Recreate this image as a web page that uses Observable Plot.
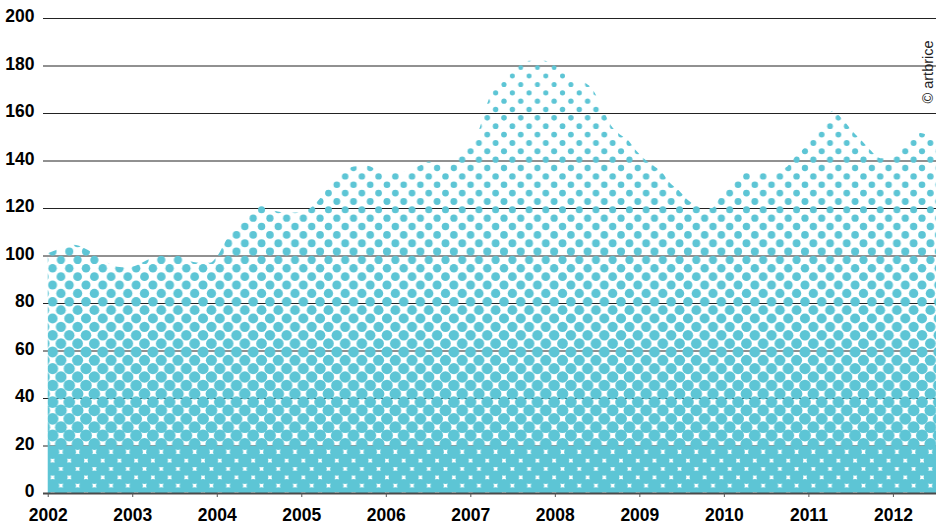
<!DOCTYPE html>
<html>
<head>
<meta charset="utf-8">
<script src="https://cdn.jsdelivr.net/npm/d3@7"></script>
<script src="https://cdn.jsdelivr.net/npm/@observablehq/plot@0.6"></script>
<style>
  html, body { margin: 0; padding: 0; background: #fff; }
  #chart { width: 936px; height: 527px; overflow: hidden; }
</style>
</head>
<body>
<div id="chart"></div>
<script>
// ---- data ----
const years = [2002.0, 2002.15, 2002.3, 2002.44, 2002.56, 2002.68, 2002.82, 2002.94, 2003.06, 2003.17,
  2003.33, 2003.53, 2003.65, 2003.8, 2003.92, 2004.0, 2004.12, 2004.28, 2004.43, 2004.54,
  2004.67, 2004.87, 2005.02, 2005.13, 2005.22, 2005.31, 2005.5, 2005.62, 2005.78, 2005.93,
  2006.1, 2006.29, 2006.41, 2006.5, 2006.64, 2006.76, 2006.88, 2007.0, 2007.09, 2007.2,
  2007.28, 2007.39, 2007.5, 2007.59, 2007.7, 2007.88, 2007.98, 2008.09, 2008.18, 2008.36,
  2008.45, 2008.55, 2008.68, 2008.77, 2008.86, 2008.95, 2009.05, 2009.16, 2009.27, 2009.36,
  2009.46, 2009.57, 2009.66, 2009.76, 2009.86, 2009.96, 2010.05, 2010.16, 2010.25, 2010.43,
  2010.55, 2010.64, 2010.75, 2010.84, 2010.94, 2011.05, 2011.14, 2011.23, 2011.29, 2011.34,
  2011.44, 2011.53, 2011.64, 2011.73, 2011.85, 2011.97, 2012.06, 2012.18, 2012.33, 2012.44, 2012.51];
const values = [101, 103, 104.5, 103, 100.5, 97.5, 95.3, 95, 96, 98,
  100, 100, 98, 97, 97, 99.5, 107, 114, 119, 121.4,
  119, 118, 118.5, 120.6, 124, 128.5, 135, 137.5, 137.8, 135.4,
  134.8, 136, 138, 139.6, 139, 139, 143, 146.6, 151.7, 164,
  170.6, 174.6, 177.5, 180.5, 182, 182, 180.5, 178, 175.4, 172.7,
  169.8, 163, 154, 151, 148.8, 144.6, 141, 138, 135, 130.6,
  127.7, 123.5, 121.4, 120, 120, 124.8, 128.5, 132, 135.4, 134.8,
  135, 136, 137.5, 141.5, 145, 149.6, 153.8, 159, 161, 159.7,
  155.9, 152, 148, 144.5, 141, 141, 143.9, 149.6, 151.6, 150, 148.8];
const xTicks = [2002, 2003, 2004, 2005, 2006, 2007, 2008, 2009, 2010, 2011, 2012];
const yTicks = [0, 20, 40, 60, 80, 100, 120, 140, 160, 180, 200];
const credit = ["© artbrice"];

const data = years.map((y, i) => ({year: y, value: values[i]}));

// ---- styles ----
const CYAN = "#5dc5d5";
const FONT = "'Liberation Sans', Arial, Helvetica, sans-serif";

const chart = Plot.plot({
  width: 936,
  height: 527,
  marginLeft: 43,
  marginRight: 0,
  marginTop: 18,
  marginBottom: 34,
  style: {fontFamily: FONT, background: "#fff", overflow: "visible"},
  x: {domain: [2001.944, 2012.51]},
  y: {domain: [0, 200]},
  marks: [
    Plot.ruleY(yTicks.filter(d => d > 0), {stroke: "#222", strokeWidth: 1}),
    Plot.areaY(data, {x: "year", y: "value", curve: "monotone-x", fill: CYAN}),
    Plot.ruleY([0], {stroke: "#4a4a4a", strokeWidth: 2}),
    Plot.axisX({ticks: xTicks, tickFormat: d => String(d), tickSize: 4, tickPadding: 11,
      stroke: "#555", fontSize: 17.5, fontWeight: "bold", fill: "#000", label: null}),
    Plot.axisY({ticks: yTicks, tickSize: 0, tickPadding: 9, dy: -2,
      fontSize: 17.5, fontWeight: "bold", fill: "#000", label: null}),
    Plot.text(credit, {frameAnchor: "top-right", text: d => d, rotate: -90, textAnchor: "start",
      lineAnchor: "middle", dx: -8, dy: 85, fontSize: 14.5, fill: "#222"})
  ]
});

// ---- halftone fill pattern (dots grow toward the baseline) ----
const ys = chart.scale("y");
const D = 8.36;
const H = 527;
const rScale = d3.scaleLinear()
  .domain([20, 40, 60, 80, 100, 120, 140, 160, 180, 200])
  .range([6.0, 5.85, 5.45, 4.8, 4.05, 3.5, 3.1, 2.75, 2.4, 2.1])
  .clamp(true);
const svgSel = d3.select(chart);
const defs = svgSel.insert("defs", ":first-child");
const pat = defs.append("pattern")
  .attr("id", "halftone")
  .attr("patternUnits", "userSpaceOnUse")
  .attr("x", 2.4).attr("y", 0)
  .attr("width", 2 * D).attr("height", H);
const Y0 = 485.7 - Math.floor(485.7 / D) * D;
for (let j = 0; ; j++) {
  const cy = Y0 + j * D;
  if (cy > H) break;
  const v = ys.invert(cy);
  const r = v < 20 ? 6.75 : rScale(v);
  const xs = (Math.round((485.7 - cy) / D) % 2 === 0) ? [0, 2 * D] : [D];
  for (const cx of xs) {
    pat.append("circle").attr("cx", cx).attr("cy", cy).attr("r", r).attr("fill", CYAN);
  }
}
const areaG = svgSel.select('g[aria-label="area"]');
areaG.attr("fill", "url(#halftone)");
areaG.selectAll("path").attr("fill", "url(#halftone)");

document.getElementById("chart").appendChild(chart);
</script>
</body>
</html>
